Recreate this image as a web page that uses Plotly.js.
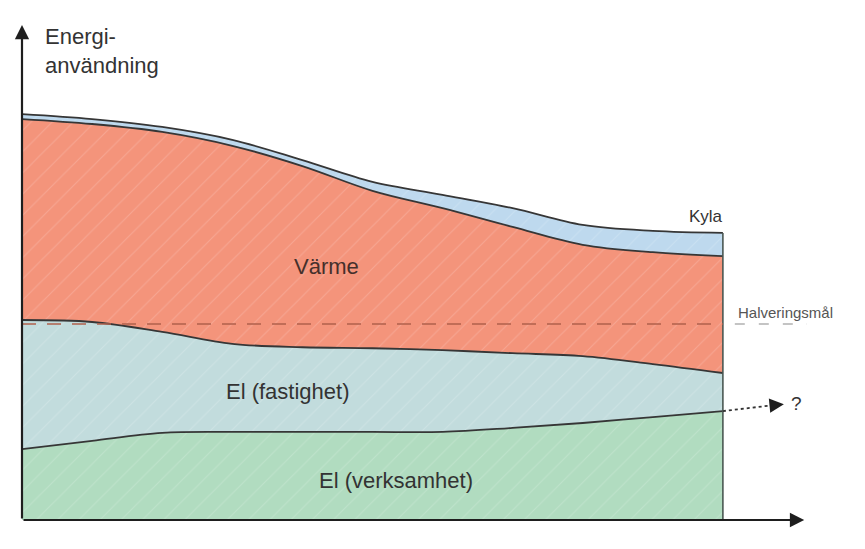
<!DOCTYPE html>
<html>
<head>
<meta charset="utf-8">
<script src="https://cdn.plot.ly/plotly-3.0.1.min.js"></script>
<style>html,body{margin:0;padding:0;background:#fff;}#chart{width:865px;height:549px;}</style>
</head>
<body>
<div id="chart"></div>
<script>
// Time (arbitrary units, 0 = start, 100 = end of the drawn period)
const tid = [0, 10, 20, 30, 40, 50, 60, 70, 80, 90, 100];
// Stacked energy use per category (arbitrary units)
const elVerksamhet = [14.3, 16.0, 17.6, 17.8, 17.8, 17.8, 17.8, 18.6, 19.6, 20.8, 22.0];
const elFastighet  = [26.1, 24.0, 20.4, 17.8, 17.1, 16.9, 16.5, 15.1, 13.5, 10.7, 7.7];
const varme        = [40.6, 40.0, 40.4, 40.0, 36.6, 31.8, 28.7, 25.5, 22.5, 22.6, 23.6];
const kyla         = [1.0, 1.0, 1.0, 1.2, 1.2, 1.8, 2.7, 3.8, 4.0, 4.3, 4.7];
// Halving target level
const halveringsmal = 39.6;
// Text labels
const labels = {
  yTitle1: 'Energi-', yTitle2: 'användning', xTitle: 'Tid',
  varme: 'Värme', elFastighet: 'El (fastighet)', elVerksamhet: 'El (verksamhet)',
  kyla: 'Kyla', mal: 'Halveringsmål', fraga: '?'
};

const lineCol = '#363636';
const txtCol = '#333333';
const font = 'Liberation Sans, Arial, sans-serif';

// cumulative tops (stacking done here so that spline smoothing applies)
const series = [elVerksamhet, elFastighet, varme, kyla];
const cum = [];
series.forEach((s, i) => {
  cum.push(s.map((v, j) => v + (i > 0 ? cum[i - 1][j] : 0)));
});

const colors = ['#b1dcc0', '#c2dcdd', '#f4947b', '#bed9ee'];
const names = [labels.elVerksamhet, labels.elFastighet, labels.varme, labels.kyla];

const traces = cum.map((y, i) => ({
  x: tid, y: y, name: names[i], type: 'scatter', mode: 'lines',
  fill: i === 0 ? 'tozeroy' : 'tonexty',
  line: {color: lineCol, width: 1.8, shape: 'spline', smoothing: 1.0},
  fillcolor: colors[i],
  fillpattern: {shape: '/', bgcolor: colors[i], fgcolor: '#ffffff', fgopacity: 0.18, size: 15, solidity: 0.07},
  hoverinfo: 'skip'
}));

const n = tid.length - 1;
const tEnd = tid[n];
const totalEnd = cum[3][n];
const verkEnd = cum[0][n];

const shapes = [
  // right edge of the area
  {type: 'line', xref: 'x', yref: 'y', x0: tEnd, x1: tEnd, y0: 0, y1: totalEnd,
   line: {color: '#4a5752', width: 1.6}},
  // halving target dashed line inside chart
  {type: 'line', xref: 'x', yref: 'y', x0: 0, x1: tEnd, y0: halveringsmal, y1: halveringsmal,
   line: {color: '#b0604c', width: 1.4, dash: '14px,11px'}, layer: 'above'},
  // short dashes under the label
  {type: 'line', xref: 'x', yref: 'y', x0: 101.7, x1: 116.5, y0: halveringsmal, y1: halveringsmal,
   line: {color: '#8a8a8a', width: 1.2, dash: '10px,14px'}},
  // dotted continuation arrow shaft
  {type: 'line', xref: 'x', yref: 'y', x0: tEnd, x1: 107.2, y0: verkEnd, y1: verkEnd + 1.2,
   line: {color: '#333', width: 1.8, dash: 'dot'}}
];

const ann = [
  // y axis arrow
  {x: 0, y: 100, ax: 0, ay: 0, xref: 'x', yref: 'y', axref: 'x', ayref: 'y', text: '',
   showarrow: true, arrowhead: 2, arrowsize: 1.3, arrowwidth: 2.2, arrowcolor: '#1e1e1e'},
  // x axis arrow
  {x: 111.6, y: 0, ax: 0, ay: 0, xref: 'x', yref: 'y', axref: 'x', ayref: 'y', text: '',
   showarrow: true, arrowhead: 2, arrowsize: 1.3, arrowwidth: 2.2, arrowcolor: '#1e1e1e'},
  // dotted arrow head
  {x: 108.7, y: verkEnd + 1.4, ax: 106.5, ay: verkEnd + 1.1, xref: 'x', yref: 'y', axref: 'x', ayref: 'y', text: '',
   showarrow: true, arrowhead: 2, arrowsize: 1.6, arrowwidth: 1.8, arrowcolor: '#1e1e1e'},
  {x: 0.027, y: 0.976, xref: 'paper', yref: 'paper', xanchor: 'left', yanchor: 'middle',
   text: labels.yTitle1, showarrow: false, font: {family: font, size: 22, color: txtCol}},
  {x: 0.027, y: 0.918, xref: 'paper', yref: 'paper', xanchor: 'left', yanchor: 'middle',
   text: labels.yTitle2, showarrow: false, font: {family: font, size: 22, color: txtCol}},
  {x: 112.6, y: 0, xref: 'x', yref: 'y', xanchor: 'left', yanchor: 'middle',
   text: labels.xTitle, showarrow: false, font: {family: font, size: 22, color: txtCol}},
  {x: 43.5, y: 51.3, xref: 'x', yref: 'y', text: labels.varme, showarrow: false,
   font: {family: font, size: 22, color: '#45302b'}},
  {x: 37.9, y: 25.9, xref: 'x', yref: 'y', text: labels.elFastighet, showarrow: false,
   font: {family: font, size: 22, color: txtCol}},
  {x: 53.4, y: 7.9, xref: 'x', yref: 'y', text: labels.elVerksamhet, showarrow: false,
   font: {family: font, size: 22, color: txtCol}},
  {x: 97.6, y: 61.4, xref: 'x', yref: 'y', text: labels.kyla, showarrow: false,
   font: {family: font, size: 17, color: txtCol}},
  {x: 101.8, y: 42.0, xref: 'x', yref: 'y', xanchor: 'left', text: labels.mal, showarrow: false,
   font: {family: font, size: 15, color: '#555'}},
  {x: 109.5, y: 23.6, xref: 'x', yref: 'y', xanchor: 'left', text: labels.fraga, showarrow: false,
   font: {family: font, size: 19, color: txtCol}}
];

const layout = {
  width: 865, height: 549,
  margin: {l: 22, r: 58, t: 25, b: 29},
  paper_bgcolor: '#ffffff', plot_bgcolor: '#ffffff',
  showlegend: false,
  xaxis: {range: [0, 112], showgrid: false, zeroline: false, showticklabels: false, ticks: '', showline: false, fixedrange: true},
  yaxis: {range: [0, 100], showgrid: false, zeroline: false, showticklabels: false, ticks: '', showline: false, fixedrange: true},
  shapes: shapes,
  annotations: ann
};

Plotly.newPlot('chart', traces, layout, {displayModeBar: false, staticPlot: true});
</script>
</body>
</html>
